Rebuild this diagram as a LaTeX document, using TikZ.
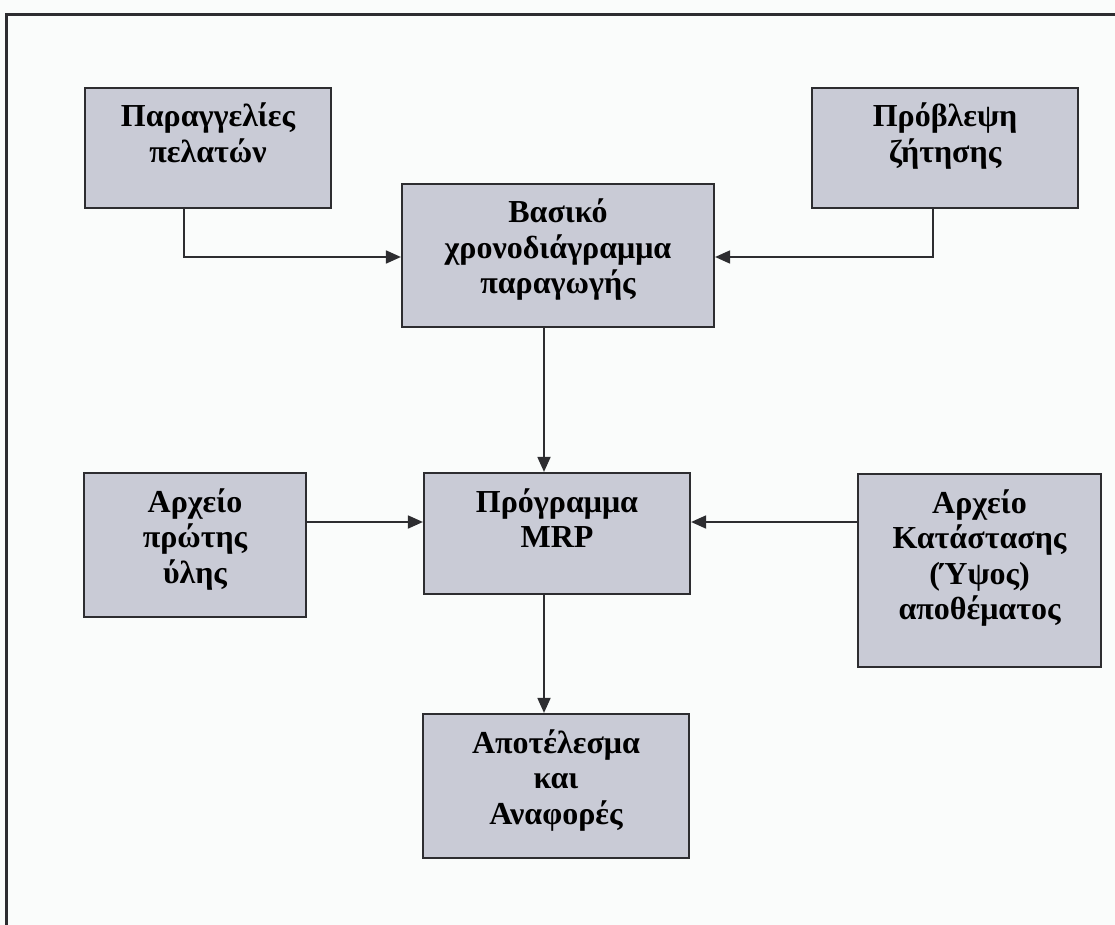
\documentclass[tikz,border=0pt]{standalone}
\usepackage{fontspec}
\setmainfont{Liberation Serif}
\usetikzlibrary{arrows.meta}

\definecolor{boxfill}{RGB}{201,203,214}
\definecolor{edgegray}{RGB}{45,45,48}
\definecolor{paper}{RGB}{250,252,251}

% text block: fixed size, lines hung from the top edge
\newcommand{\blocktext}[3]{%
  \parbox[c][#2pt][t]{#1pt}{\centering\fontsize{32pt}{35.5pt}\selectfont\bfseries
    \rule{0pt}{39pt}#3}}

\tikzset{
  block/.style={draw=edgegray, line width=2.2pt, fill=boxfill, inner sep=0pt},
  flow/.style={draw=edgegray, line width=1.8pt,
    -{Triangle[length=15pt,width=13pt]}},
  frameline/.style={draw=edgegray, line width=3pt}
}

\begin{document}
\begin{tikzpicture}[x=1pt,y=-1pt]
  % page
  \fill[paper] (0,0) rectangle (1115,925);
  \useasboundingbox (0,0) rectangle (1115,925);
  \draw[frameline] (6,925) -- (6,15) -- (1115,15);

  % boxes
  \node[block] (po)  at (208,148)   {\blocktext{246}{120}{Παραγγελίες\\πελατών}};
  \node[block] (bs)  at (558,255.5) {\blocktext{312}{143}{Βασικό\\χρονοδιάγραμμα\\παραγωγής}};
  \node[block] (fc)  at (945,148)   {\blocktext{266}{120}{Πρόβλεψη\\ζήτησης}};
  \node[block] (raw) at (195,545)   {\blocktext{222}{144}{Αρχείο\\πρώτης\\ύλης}};
  \node[block] (mrp) at (557,533.5) {\blocktext{266}{121}{Πρόγραμμα\\MRP}};
  \node[block] (inv) at (979.5,570.5) {\blocktext{243}{193}{Αρχείο\\Κατάστασης\\(Ύψος)\\αποθέματος}};
  \node[block] (out) at (556,786)   {\blocktext{266}{144}{Αποτέλεσμα\\και\\Αναφορές}};

  % guide positions for the connectors
  \coordinate (lx) at (184,0);
  \coordinate (rx) at (933,0);
  \coordinate (vx) at (544,0);
  \coordinate (hy) at (0,257);
  \coordinate (my) at (0,522);

  % connectors
  \draw[flow] (lx |- po.south) -- (lx |- hy) -- (bs.west |- hy);
  \draw[flow] (rx |- fc.south) -- (rx |- hy) -- (bs.east |- hy);
  \draw[flow] (vx |- bs.south) -- (vx |- mrp.north);
  \draw[flow] (raw.east |- my) -- (mrp.west |- my);
  \draw[flow] (inv.west |- my) -- (mrp.east |- my);
  \draw[flow] (vx |- mrp.south) -- (vx |- out.north);
\end{tikzpicture}
\end{document}
